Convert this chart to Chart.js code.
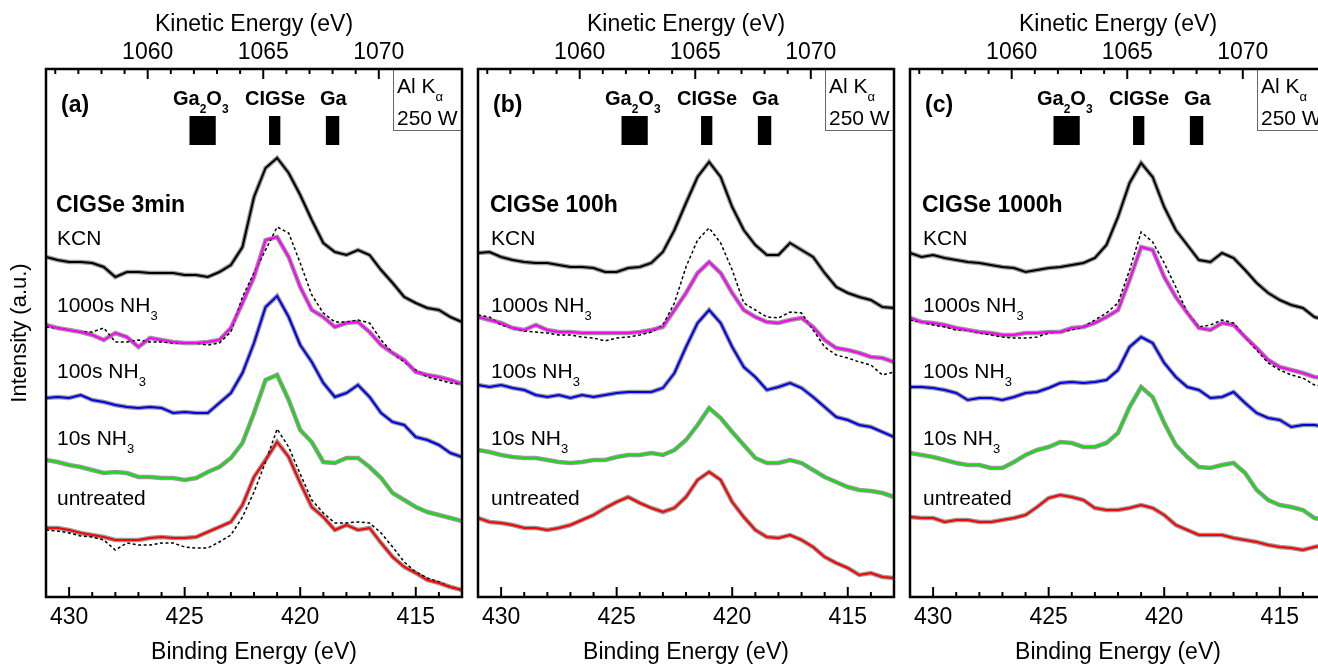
<!DOCTYPE html>
<html><head><meta charset="utf-8">
<script src="https://cdn.jsdelivr.net/npm/chart.js@4"></script>
<style>
html,body{margin:0;padding:0;background:#fff;overflow:hidden;width:1318px;height:666px;position:relative}
canvas{position:absolute;top:0}
</style></head><body>
<canvas id="ca"></canvas><canvas id="cb"></canvas><canvas id="cc"></canvas>
<script>
// ---------- data ----------
const bindingEnergy = [431,430.5,430,429.5,429,428.5,428,427.5,427,426.5,426,425.5,425,424.5,424,423.5,423,422.5,422,421.5,421,420.5,420,419.5,419,418.5,418,417.5,417,416.5,416,415.5,415,414.5,414,413.5,413];
const bindingTicks = [431,430,429,428,427,426,425,424,423,422,421,420,419,418,417,416,415,414,413];
const bindingTickLabels = [430,425,420,415];
const kineticTicks = [1056,1057,1058,1059,1060,1061,1062,1063,1064,1065,1066,1067,1068,1069,1070,1071,1072,1073];
const kineticTickLabels = [1060,1065,1070];
const photonEnergy = 1486.6;

const seriesNames = ['KCN','1000s NH3','100s NH3','10s NH3','untreated'];
const seriesColors = ['#000000','#ff00ff','#0000ee','#11dd11','#ff0000'];

// panel (a) CIGSe 3min
const a_KCN       = [340,337,335,335,334,330,320,325,325,324,324,324,322,322,320,325,332,350,400,429,439,424,402,377,354,345,342,347,342,327,314,300,294,289,287,280,275];
const a_NH3_1000s = [272,269,267,265,262,257,264,260,250,259,257,255,254,254,255,257,269,294,320,357,360,340,310,287,280,270,274,275,265,252,244,237,225,222,220,217,213];
const a_NH3_100s  = [199,200,199,202,197,195,192,190,189,190,189,184,185,184,184,194,204,224,254,290,301,280,252,235,214,200,204,212,200,184,175,172,160,157,152,144,140];
const a_NH3_10s   = [137,135,132,130,127,124,125,124,120,120,119,119,117,119,125,130,139,154,184,217,222,197,167,155,135,134,139,139,130,119,104,97,90,85,82,79,76];
const a_untreated = [69,69,67,64,62,60,57,57,57,59,60,59,59,60,65,70,75,92,120,137,155,140,114,90,80,67,72,67,69,54,40,30,24,17,14,10,7];
const a_ref_1000s = [270,269,267,265,265,269,255,255,257,255,255,254,254,254,252,254,265,300,324,347,370,364,334,302,284,275,275,277,274,257,244,235,227,220,217,214,213];
const a_ref_untreated = [67,66,64,61,60,57,47,54,52,52,54,54,50,49,49,55,62,80,105,135,168,150,123,97,84,74,74,75,74,64,50,35,25,19,15,10,7];

// panel (b) CIGSe 100h
const b_KCN       = [344,345,340,337,335,334,334,332,330,330,329,325,325,329,330,334,345,367,394,420,435,420,390,367,352,342,342,354,347,340,324,310,304,300,297,290,289];
const b_NH3_1000s = [280,277,274,269,267,272,267,265,265,264,264,264,264,264,265,267,270,287,304,324,335,324,304,287,280,275,274,277,279,270,257,249,247,244,240,239,235];
const b_NH3_100s  = [212,210,212,209,207,202,200,202,199,202,200,202,204,205,205,205,209,224,250,274,287,274,250,230,220,207,210,214,209,200,190,180,177,172,170,165,160];
const b_NH3_10s   = [147,145,142,140,139,139,137,135,134,135,137,137,140,142,142,144,142,147,157,172,189,179,165,152,139,134,134,137,134,127,120,115,110,107,106,104,100];
const b_untreated = [79,75,74,72,69,69,67,69,72,77,82,89,95,100,94,89,85,89,100,117,125,117,95,80,67,60,59,62,57,50,40,34,29,22,24,20,19];
const b_ref_1000s = [282,280,272,269,266,265,264,262,262,260,259,256,259,260,262,265,272,294,330,357,369,354,327,294,287,280,279,285,284,267,250,242,239,235,232,222,225];

// panel (c) CIGSe 1000h
const c_KCN       = [344,340,342,339,337,335,334,332,330,329,325,327,329,330,332,334,339,352,380,414,434,420,390,367,352,337,335,344,339,327,314,304,297,292,289,280,277];
const c_NH3_1000s = [279,275,274,272,269,267,265,264,262,262,264,264,265,265,269,270,274,280,287,317,350,347,320,300,284,269,267,274,272,260,249,237,230,227,224,220,219];
const c_NH3_100s  = [210,210,209,207,204,197,199,199,197,200,204,205,209,214,215,214,215,217,227,250,260,254,234,220,210,207,199,200,205,194,184,179,177,170,172,172,170];
const c_NH3_10s   = [144,142,140,137,134,132,132,129,129,135,142,147,150,155,154,150,150,154,164,190,210,200,174,152,140,130,129,132,134,124,107,97,92,90,87,79,77];
const c_untreated = [80,79,79,75,77,77,75,75,77,79,82,90,99,102,100,97,89,87,87,89,92,89,82,72,67,62,62,62,59,57,55,52,50,49,47,50,52];
const c_ref_1000s = [277,275,272,270,267,267,264,262,260,259,259,260,264,265,267,270,277,284,294,327,365,355,334,310,284,270,272,277,274,260,247,234,227,222,219,212,210];

// reference line positions (binding energy ranges)
const markerLabels = ['Ga2O3','CIGSe','Ga'];
const markerFrom = [424.8,421.35,418.9];
const markerTo   = [423.65,420.85,418.3];
const markerTop = 481, markerBottom = 452;

// ---------- drawing ----------
const FONT = "'Liberation Sans', Arial, Helvetica, sans-serif";
const AX = {family:"'Liberation Sans', Arial, sans-serif", size:23};

function pts(arr){ return bindingEnergy.map((x,i)=>({x:x, y:arr[i]})); }

function drawParts(ctx, x, y, parts, size, weight){
  let cx = x;
  for (const [t, sub] of parts){
    const fs = sub ? Math.round(size*0.6) : size;
    ctx.font = weight + ' ' + fs + 'px ' + FONT;
    ctx.fillText(t, cx, sub ? y + size*0.38 : y);
    cx += ctx.measureText(t).width;
  }
}

const panels = [
  {id:'ca', left:0,   letter:'(a)', title:'CIGSe 3min',  lx:57, yTitle:true,
   series:[a_KCN,a_NH3_1000s,a_NH3_100s,a_NH3_10s,a_untreated], refs:[a_ref_1000s,a_ref_untreated]},
  {id:'cb', left:432, letter:'(b)', title:'CIGSe 100h',  lx:59, yTitle:false,
   series:[b_KCN,b_NH3_1000s,b_NH3_100s,b_NH3_10s,b_untreated], refs:[b_ref_1000s]},
  {id:'cc', left:864, letter:'(c)', title:'CIGSe 1000h', lx:59, yTitle:false,
   series:[c_KCN,c_NH3_1000s,c_NH3_100s,c_NH3_10s,c_untreated], refs:[c_ref_1000s]}
];

panels.forEach(p=>{
  const cv = document.getElementById(p.id);
  cv.width = 470; cv.height = 666; cv.style.left = p.left + 'px';
  const datasets = [];
  p.series.forEach((s,i)=>datasets.push({label:seriesNames[i], data:pts(s), borderColor:seriesColors[i], borderWidth:2, pointRadius:0, fill:false, order:1}));
  // grey raw-data band underneath each smoothed spectrum
  p.series.forEach((s,i)=>datasets.push({label:seriesNames[i]+' raw', data:pts(s), borderColor:'#9a9a9a', borderWidth:4.5, pointRadius:0, fill:false, order:4}));
  p.refs.forEach(s=>datasets.push({label:'ref', data:pts(s), borderColor:'#000', borderWidth:1.5, borderDash:[3,2.5], pointRadius:0, fill:false, order:2}));
  markerLabels.forEach((m,i)=>datasets.push({label:m, data:[{x:markerFrom[i],y:markerTop},{x:markerTo[i],y:markerTop}], borderWidth:0, borderColor:'#000', backgroundColor:'#000', pointRadius:0, fill:{value:markerBottom}, order:3}));

  const decor = {
    id:'decor',
    afterDraw(chart){
      const {ctx, chartArea:ca, scales} = chart;
      ctx.save();
      ctx.strokeStyle = '#000'; ctx.lineWidth = 2;
      scales.x.ticks.forEach(t=>{
        const px = scales.x.getPixelForValue(t.value);
        const L = bindingTickLabels.includes(t.value) ? 10 : 5;
        ctx.beginPath(); ctx.moveTo(px, ca.bottom); ctx.lineTo(px, ca.bottom - L); ctx.stroke();
      });
      scales.x2.ticks.forEach(t=>{
        const px = scales.x2.getPixelForValue(t.value);
        const L = kineticTickLabels.includes(t.value) ? 10 : 5;
        ctx.beginPath(); ctx.moveTo(px, ca.top); ctx.lineTo(px, ca.top + L); ctx.stroke();
      });
      // Al K box
      ctx.fillStyle = '#fff'; ctx.fillRect(393, ca.top, ca.right-393, 130-ca.top);
      ctx.strokeStyle = '#666'; ctx.lineWidth = 1;
      ctx.strokeRect(393.5, ca.top, ca.right-393.5, 130.5-ca.top);
      ctx.fillStyle = '#000'; ctx.textAlign = 'left'; ctx.textBaseline = 'alphabetic';
      drawParts(ctx, 397, 93, [['Al K',false],['\u03b1',true]], 21, 'normal');
      drawParts(ctx, 397, 125, [['250 W',false]], 21, 'normal');
      // frame
      ctx.strokeStyle = '#000'; ctx.lineWidth = 2.5;
      ctx.strokeRect(ca.left, ca.top, ca.right-ca.left, ca.bottom-ca.top);
      // panel letter and marker labels
      drawParts(ctx, 61, 112, [[p.letter,false]], 23, 'bold');
      drawParts(ctx, 173, 105, [['Ga',false],['2',true],['O',false],['3',true]], 20, 'bold');
      drawParts(ctx, 245, 105, [['CIGSe',false]], 20, 'bold');
      drawParts(ctx, 320, 105, [['Ga',false]], 20, 'bold');
      // series labels
      drawParts(ctx, p.lx-1, 212, [[p.title,false]], 23, 'bold');
      drawParts(ctx, p.lx, 245, [['KCN',false]], 21, 'normal');
      drawParts(ctx, p.lx, 312, [['1000s NH',false],['3',true]], 21, 'normal');
      drawParts(ctx, p.lx, 378, [['100s NH',false],['3',true]], 21, 'normal');
      drawParts(ctx, p.lx, 445, [['10s NH',false],['3',true]], 21, 'normal');
      drawParts(ctx, p.lx, 505, [['untreated',false]], 21, 'normal');
      ctx.restore();
    }
  };

  new Chart(cv, {
    type:'line',
    data:{datasets},
    options:{
      responsive:false, animation:false, devicePixelRatio:1,
      layout:{padding:{left:0,right:8,top:0,bottom:0}},
      plugins:{legend:{display:false}, tooltip:{enabled:false}},
      elements:{point:{radius:0}, line:{tension:0}},
      scales:{
        x:{type:'linear', position:'bottom', min:413, max:431, reverse:true,
           afterBuildTicks(s){ s.ticks = bindingTicks.map(v=>({value:v})); },
           ticks:{autoSkip:false, maxRotation:0, padding:7, font:AX, color:'#000',
                  callback:(v)=>bindingTickLabels.includes(v) ? String(v) : ''},
           grid:{display:false, drawTicks:false}, border:{display:false},
           title:{display:true, text:'Binding Energy (eV)', font:AX, color:'#000', padding:{top:0,bottom:0}},
           afterFit(s){ s.height = 69; }},
        x2:{type:'linear', position:'top', min:photonEnergy-431, max:photonEnergy-413,
           afterBuildTicks(s){ s.ticks = kineticTicks.map(v=>({value:v})); },
           ticks:{autoSkip:false, maxRotation:0, padding:3, font:AX, color:'#000',
                  callback:(v)=>kineticTickLabels.includes(v) ? String(v) : ''},
           grid:{display:false, drawTicks:false}, border:{display:false},
           title:{display:true, text:'Kinetic Energy (eV)', font:AX, color:'#000', padding:{top:11,bottom:0}},
           afterFit(s){ s.height = 69; }},
        y:{type:'linear', position:'left', min:0, max:528,
           ticks:{display:false}, grid:{display:false, drawTicks:false}, border:{display:false},
           title:{display:p.yTitle, text:'Intensity (a.u.)', font:{family:AX.family, size:22}, color:'#000', padding:{top:7,bottom:0}},
           afterFit(s){ s.width = 46; }}
      }
    },
    plugins:[decor]
  });
});
</script>
</body></html>
